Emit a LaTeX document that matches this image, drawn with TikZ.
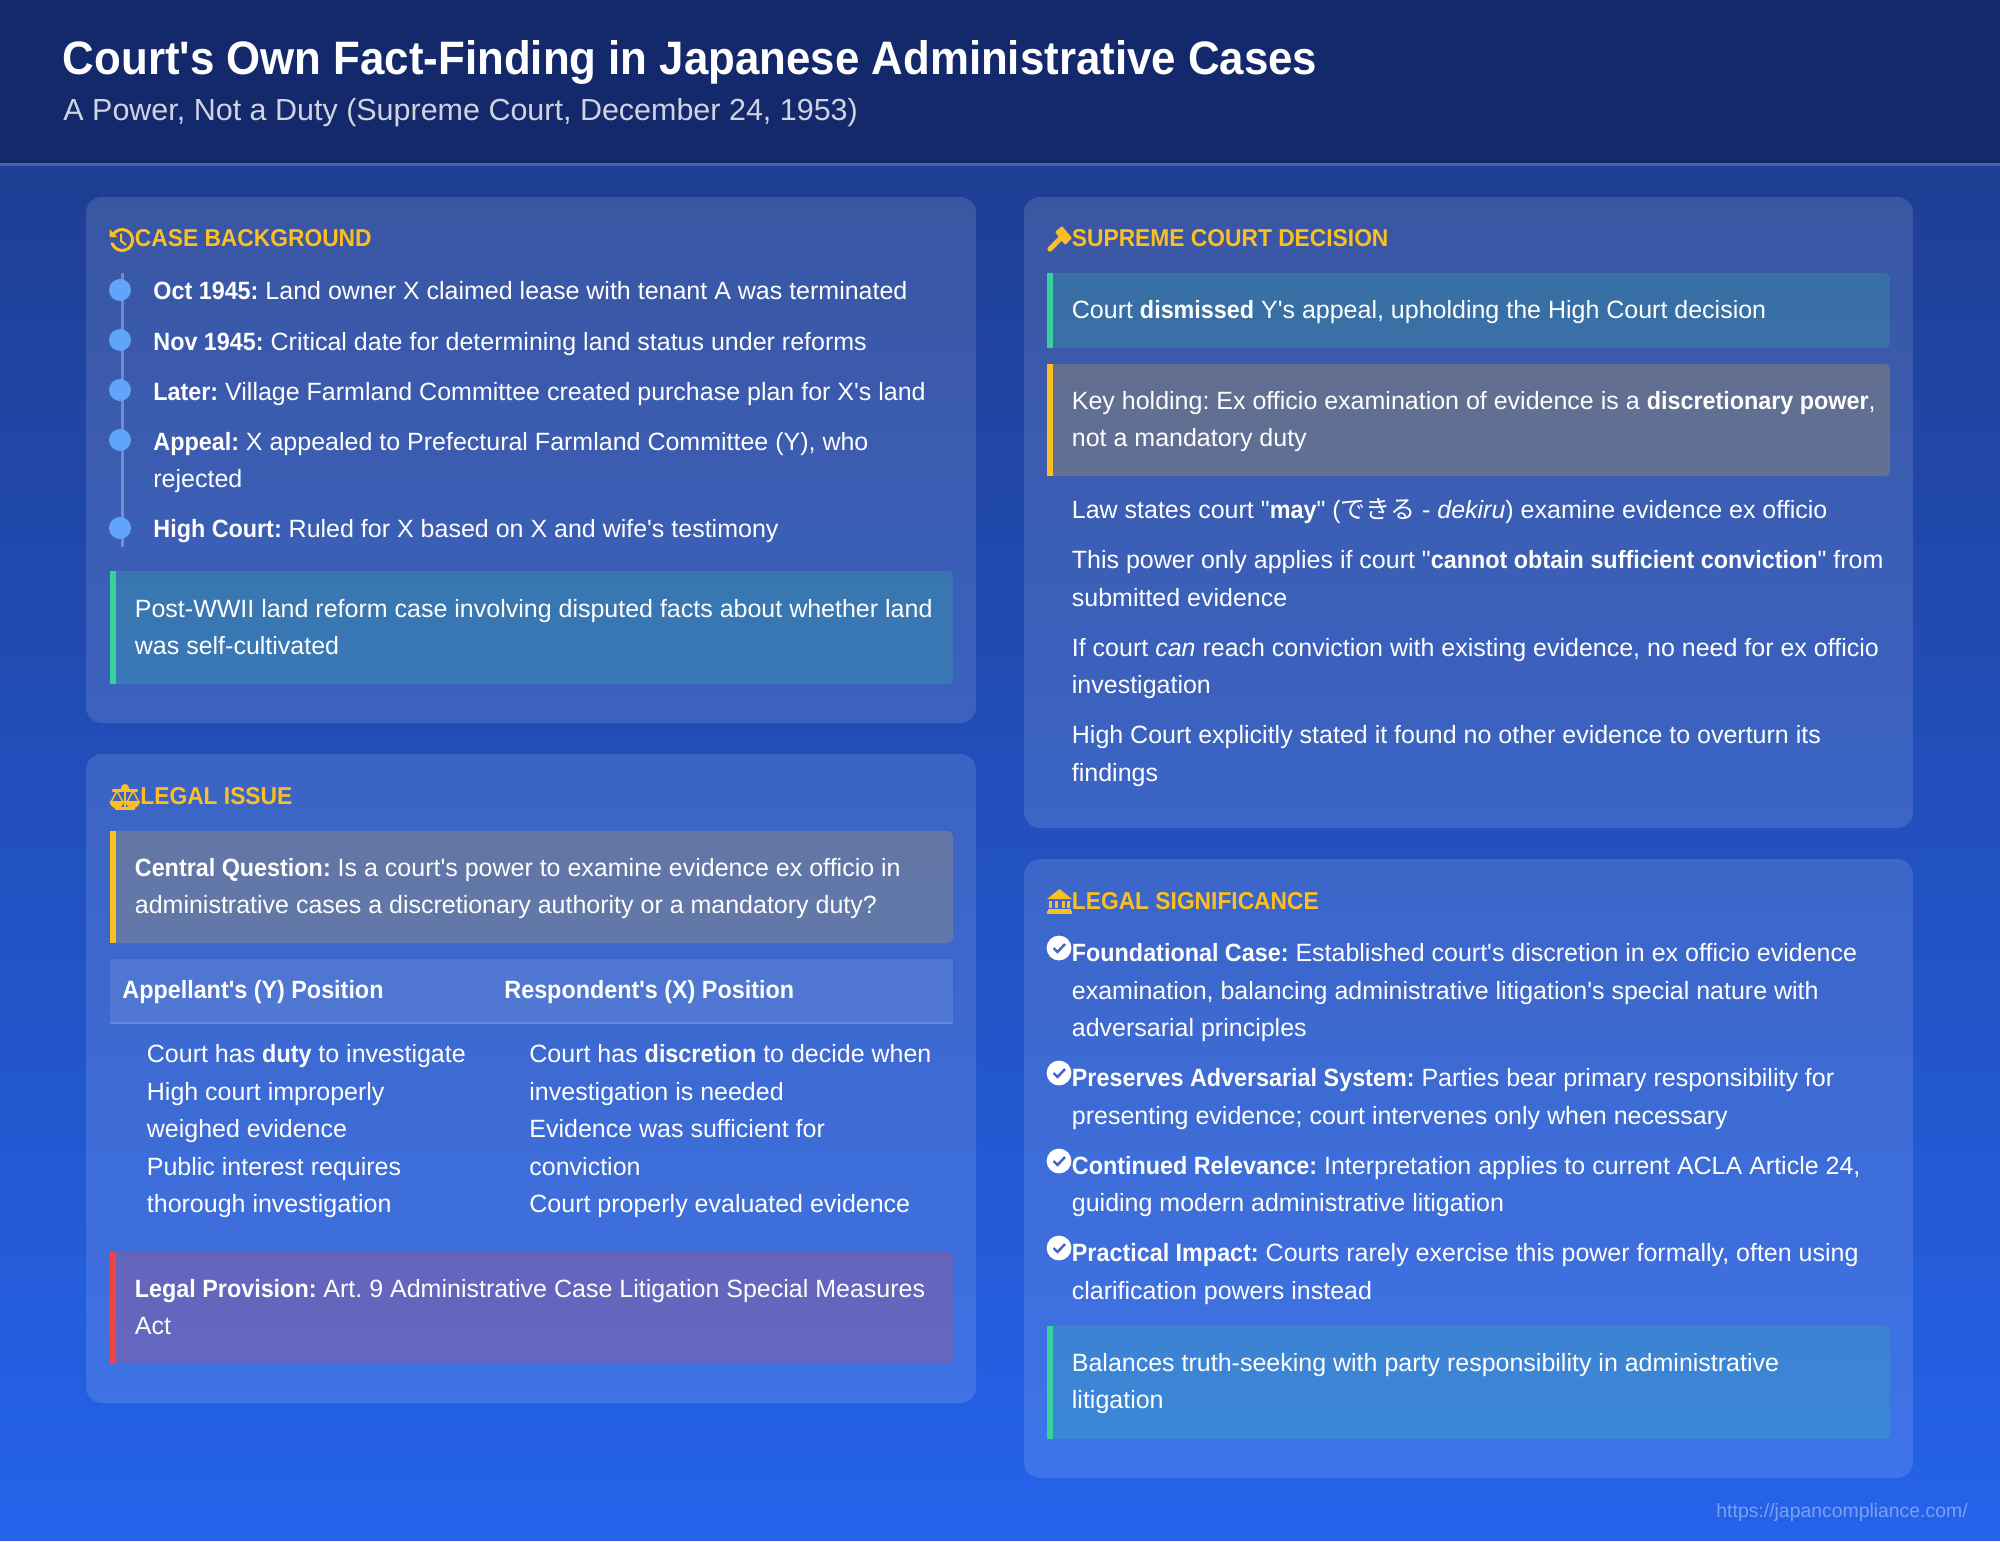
\documentclass[tikz,border=0pt]{standalone}
\usepackage{fontspec}
\setmainfont[Ligatures=TeXOff,BoldFeatures={FakeStretch=0.934}]{Liberation Sans}
\newfontfamily\cjkfont{Noto Sans CJK JP}
\frenchspacing
\definecolor{navy}{HTML}{14296B}
\definecolor{bgtop}{HTML}{1E3A8A}
\definecolor{bgbot}{HTML}{2563EB}
\definecolor{amber}{HTML}{FBBF24}
\definecolor{mint}{HTML}{34D399}
\definecolor{rose}{HTML}{EF4444}
\definecolor{dotblue}{HTML}{60A5FA}
\definecolor{tickblue}{HTML}{3E62C8}
\tikzset{
	card/.style={fill=white,fill opacity=0.12,rounded corners=8pt},
	mintbox/.style={fill=mint,fill opacity=0.2,rounded corners=2.5pt},
	amberbox/.style={fill=amber,fill opacity=0.2,rounded corners=2.5pt},
	rosebox/.style={fill=rose,fill opacity=0.22,rounded corners=2.5pt},
	bodyline/.style={anchor=base west,inner sep=0pt,text=white,font=\fontsize{12.5}{15}\selectfont},
	heading/.style={anchor=base west,inner sep=0pt,text=amber,font=\fontsize{12.2}{15}\selectfont\bfseries},
	dot/.style={fill=dotblue},
	ticked/.style={fill=white}
}
\begin{document}
\begin{tikzpicture}[x=0.5pt,y=-0.5pt]
	\useasboundingbox (0,0) rectangle (2000,1541);
	\fill[white!70!bgbot] (0,1539) rectangle (2000,1541);
	\shade[top color=bgtop,bottom color=bgbot] (0,0) rectangle (2000,1540);
	\fill[navy] (0,0) rectangle (2000,163);
	\fill[white,fill opacity=0.2] (0,163) rectangle (2000,165.5);

	\node[anchor=base west,inner sep=0pt,text=white,font=\fontsize{23.45}{26}\selectfont\bfseries] (title) at (62.5,75) {Court's Own Fact-Finding in Japanese Administrative Cases};
	\node[anchor=base west,inner sep=0pt,text=white!80!navy,font=\fontsize{15.24}{18}\selectfont] (subtitle) at (63,120) {A Power, Not a Duty (Supreme Court, December 24, 1953)};

	\fill[card] (86,197) rectangle (976,723);
	\fill[card] (86,754) rectangle (976,1403);
	\fill[card] (1024,197) rectangle (1913,828);
	\fill[card] (1024,859) rectangle (1913,1478);

	\draw[amber,line width=1.5pt,line cap=round] (113,234.75) arc[start angle=150,end angle=-160,radius=5.25pt];
	\fill[amber] (109.5,229) -- (109.5,237) -- (117,237) -- cycle;
	\draw[amber,line width=1pt] (121,233.5) -- (121,241) -- (126,245);
	\node[heading] (caseHead) at (134.5,246) {CASE BACKGROUND};

	\coordinate (lineTop) at (122,273);
	\coordinate (lineEnd) at (122,547);
	\draw[white,opacity=0.3,line width=1.5pt] (lineTop) -- (lineEnd);
	\fill[dot] (120,290) circle[radius=5.5pt];
	\fill[dot] (120,340) circle[radius=5.5pt];
	\fill[dot] (120,390) circle[radius=5.5pt];
	\fill[dot] (120,440) circle[radius=5.5pt];
	\fill[dot] (120,528) circle[radius=5.5pt];
	\node[bodyline] (caseA) at (153,299.5) {\textbf{Oct 1945:} Land owner X claimed lease with tenant A was terminated};
	\node[bodyline] (caseB) at (153,350) {\textbf{Nov 1945:} Critical date for determining land status under reforms};
	\node[bodyline] (caseC) at (153,400) {\textbf{Later:} Village Farmland Committee created purchase plan for X's land};
	\node[bodyline] (caseD) at (153,450) {\textbf{Appeal:} X appealed to Prefectural Farmland Committee (Y), who};
	\node[bodyline] (caseDb) at (153,487) {rejected};
	\node[bodyline] (caseE) at (153,537) {\textbf{High Court:} Ruled for X based on X and wife's testimony};

	\fill[mintbox] (110,571) rectangle (953,684);
	\fill[mint] (110,571) rectangle (116,684);
	\node[bodyline] (caseNote) at (134.5,617) {Post-WWII land reform case involving disputed facts about whether land};
	\node[bodyline] (caseNoteb) at (134.5,654.5) {was self-cultivated};

	\draw[amber,line width=1.2pt] (125,787) -- (125,807);
	\draw[amber,line width=1.5pt,line cap=round] (116,808) -- (134,808);
	\draw[amber,line width=1.2pt,line cap=round] (113,790.5) -- (137,790.5);
	\fill[amber] (125,788) circle[radius=2pt];
	\draw[amber,line width=0.7pt,line join=round] (117,791) -- (111,802) -- (123,802) -- cycle;
	\draw[amber,line width=0.7pt,line join=round] (133,791) -- (127,802) -- (139,802) -- cycle;
	\fill[amber] (109.5,801) arc[start angle=180,end angle=360,radius=3.6pt] -- cycle;
	\fill[amber] (125.5,801) arc[start angle=180,end angle=360,radius=3.6pt] -- cycle;
	\node[heading] (issueHead) at (140,804) {LEGAL ISSUE};

	\fill[amberbox] (110,831) rectangle (953,943);
	\fill[amber] (110,831) rectangle (116,943);
	\node[bodyline] (issueQ) at (134.5,876) {\textbf{Central Question:} Is a court's power to examine evidence ex officio in};
	\node[bodyline] (issueQb) at (134.5,913.5) {administrative cases a discretionary authority or a mandatory duty?};

	\fill[white,fill opacity=0.1] (110,959) rectangle (953,1022);
	\fill[white,fill opacity=0.2] (110,1022) rectangle (953,1023.5);
	\node[bodyline] (colY) at (122,998) {\textbf{Appellant's (Y) Position}};
	\node[bodyline] (colX) at (504,998) {\textbf{Respondent's (X) Position}};
	\node[bodyline] (yA) at (146.5,1062.5) {Court has \textbf{duty} to investigate};
	\node[bodyline] (yB) at (146.5,1100) {High court improperly};
	\node[bodyline] (yC) at (146.5,1137.5) {weighed evidence};
	\node[bodyline] (yD) at (146.5,1175) {Public interest requires};
	\node[bodyline] (yE) at (146.5,1212.5) {thorough investigation};
	\node[bodyline] (xA) at (529,1062.5) {Court has \textbf{discretion} to decide when};
	\node[bodyline] (xB) at (529,1100) {investigation is needed};
	\node[bodyline] (xC) at (529,1137.5) {Evidence was sufficient for};
	\node[bodyline] (xD) at (529,1175) {conviction};
	\node[bodyline] (xE) at (529,1212.5) {Court properly evaluated evidence};

	\fill[rosebox] (110,1252) rectangle (953,1364);
	\fill[rose] (110,1252) rectangle (116,1364);
	\node[bodyline] (provision) at (134.5,1297) {\textbf{Legal Provision:} Art. 9 Administrative Case Litigation Special Measures};
	\node[bodyline] (provisionb) at (134.5,1334.5) {Act};

	\fill[amber,rounded corners=0.5pt] (1055,232) -- (1062,226) -- (1072,238) -- (1065,245) -- cycle;
	\draw[amber,line width=2.6pt,line cap=round] (1050,249) -- (1060,239);
	\node[heading] (courtHead) at (1071.5,246.5) {SUPREME COURT DECISION};

	\fill[mintbox] (1047,273) rectangle (1890,348);
	\fill[mint] (1047,273) rectangle (1053,348);
	\node[bodyline] (courtA) at (1071.5,318) {Court \textbf{dismissed} Y's appeal, upholding the High Court decision};

	\fill[amberbox] (1047,364) rectangle (1890,476);
	\fill[amber] (1047,364) rectangle (1053,476);
	\node[bodyline] (courtB) at (1071.5,409) {Key holding: Ex officio examination of evidence is a \textbf{discretionary power},};
	\node[bodyline] (courtBb) at (1071.5,446.5) {not a mandatory duty};

	\node[bodyline] (courtC) at (1071.5,518.5) {Law states court "\textbf{may}" ({\cjkfont できる} - \textit{dekiru}) examine evidence ex officio};
	\node[bodyline] (courtD) at (1071.5,568.5) {This power only applies if court "\textbf{cannot obtain sufficient conviction}" from};
	\node[bodyline] (courtDb) at (1071.5,606) {submitted evidence};
	\node[bodyline] (courtE) at (1071.5,656) {If court \textit{can} reach conviction with existing evidence, no need for ex officio};
	\node[bodyline] (courtEb) at (1071.5,693.5) {investigation};
	\node[bodyline] (courtF) at (1071.5,743.5) {High Court explicitly stated it found no other evidence to overturn its};
	\node[bodyline] (courtFb) at (1071.5,781) {findings};

	\fill[amber] (1059.5,889) -- (1072,899) -- (1047,899) -- cycle;
	\fill[amber] (1049,900.5) rectangle (1052,908);
	\fill[amber] (1054.5,900.5) rectangle (1057.5,908);
	\fill[amber] (1061.5,900.5) rectangle (1064.5,908);
	\fill[amber] (1067,900.5) rectangle (1070,908);
	\fill[amber] (1048,909) rectangle (1071,911);
	\fill[amber] (1047,911) rectangle (1072,914);
	\node[heading] (sigHead) at (1071.5,909) {LEGAL SIGNIFICANCE};

	\fill[ticked] (1059,948) circle[radius=6.2pt];
	\draw[tickblue,line width=1.2pt] (1053.5,948) -- (1057.5,952) -- (1065,944);
	\fill[ticked] (1059,1073) circle[radius=6.2pt];
	\draw[tickblue,line width=1.2pt] (1053.5,1073) -- (1057.5,1077) -- (1065,1069);
	\fill[ticked] (1059,1161) circle[radius=6.2pt];
	\draw[tickblue,line width=1.2pt] (1053.5,1161) -- (1057.5,1165) -- (1065,1157);
	\fill[ticked] (1059,1248) circle[radius=6.2pt];
	\draw[tickblue,line width=1.2pt] (1053.5,1248) -- (1057.5,1252) -- (1065,1244);

	\node[bodyline] (sigA) at (1071.5,961.5) {\textbf{Foundational Case:} Established court's discretion in ex officio evidence};
	\node[bodyline] (sigAb) at (1071.5,999) {examination, balancing administrative litigation's special nature with};
	\node[bodyline] (sigAc) at (1071.5,1036.5) {adversarial principles};
	\node[bodyline] (sigB) at (1071.5,1086.5) {\textbf{Preserves Adversarial System:} Parties bear primary responsibility for};
	\node[bodyline] (sigBb) at (1071.5,1124) {presenting evidence; court intervenes only when necessary};
	\node[bodyline] (sigC) at (1071.5,1174) {\textbf{Continued Relevance:} Interpretation applies to current ACLA Article 24,};
	\node[bodyline] (sigCb) at (1071.5,1211.5) {guiding modern administrative litigation};
	\node[bodyline] (sigD) at (1071.5,1261.5) {\textbf{Practical Impact:} Courts rarely exercise this power formally, often using};
	\node[bodyline] (sigDb) at (1071.5,1299) {clarification powers instead};

	\fill[mintbox] (1047,1326) rectangle (1890,1439);
	\fill[mint] (1047,1326) rectangle (1053,1439);
	\node[bodyline] (sigNote) at (1071.5,1371) {Balances truth-seeking with party responsibility in administrative};
	\node[bodyline] (sigNoteb) at (1071.5,1408.5) {litigation};

	\node[anchor=base west,inner sep=0pt,text=white,text opacity=0.4,font=\fontsize{9.7}{12}\selectfont] (siteUrl) at (1716,1517) {https://japancompliance.com/};
\end{tikzpicture}
\end{document}
